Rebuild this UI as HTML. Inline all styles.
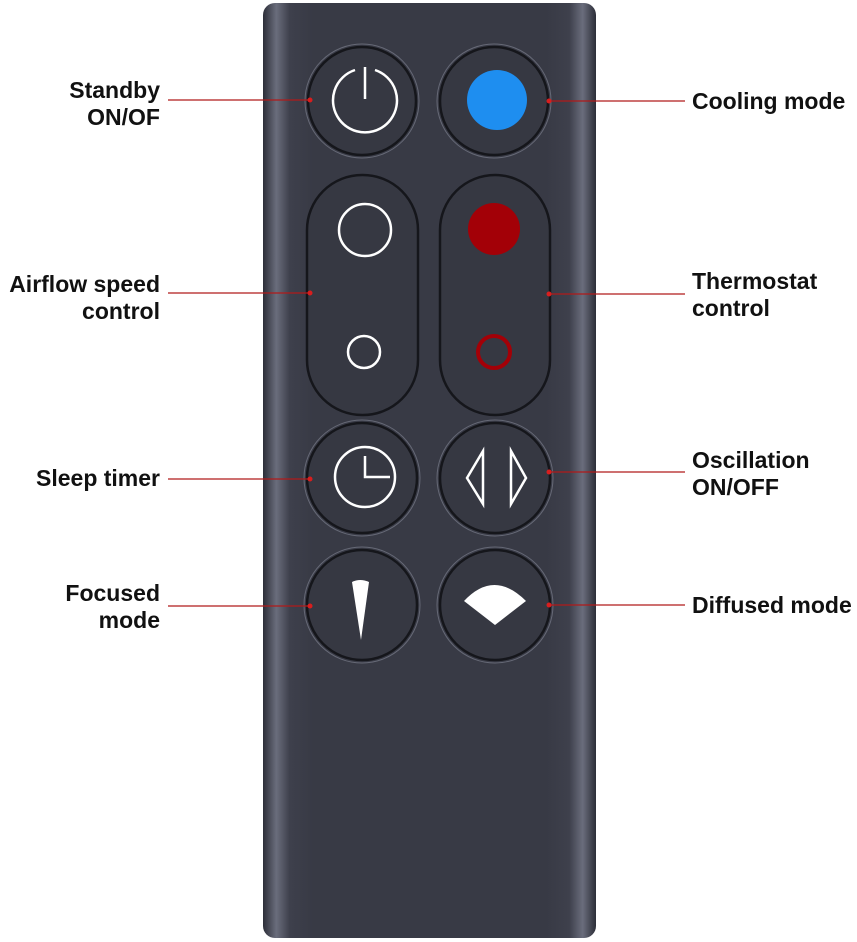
<!DOCTYPE html>
<html><head><meta charset="utf-8"><style>
html,body{margin:0;padding:0;background:#fff;width:857px;height:942px;overflow:hidden}
svg{display:block}
text{font-family:"Liberation Sans",sans-serif;font-weight:bold;font-size:23px;fill:#111}
</style></head><body>
<svg width="857" height="942" viewBox="0 0 857 942">
<defs>
<linearGradient id="bd" x1="0" x2="1" y1="0" y2="0">
<stop offset="0" stop-color="#2c2e38"/>
<stop offset="0.04" stop-color="#6a6d7c"/>
<stop offset="0.08" stop-color="#3e404c"/>
<stop offset="0.15" stop-color="#383a45"/>
<stop offset="0.85" stop-color="#383a45"/>
<stop offset="0.92" stop-color="#3e404c"/>
<stop offset="0.96" stop-color="#6a6d7c"/>
<stop offset="1" stop-color="#2c2e38"/>
</linearGradient>
</defs>
<rect x="263" y="3" width="333" height="935" rx="12" fill="url(#bd)"/>
<g fill="#363842" stroke="#15161b" stroke-width="2.5">
<circle cx="362" cy="101" r="54"/>
<circle cx="494" cy="101" r="54"/>
<rect x="307" y="175" width="111" height="240" rx="55"/>
<rect x="440" y="175" width="110" height="240" rx="55"/>
<circle cx="362" cy="478" r="55"/>
<circle cx="495" cy="478" r="55"/>
<circle cx="362" cy="605" r="55"/>
<circle cx="495" cy="605" r="55"/>
</g>
<g fill="none" stroke="#7a7d8c" stroke-width="1" opacity="0.7">
<circle cx="362" cy="101" r="57"/>
<circle cx="494" cy="101" r="57"/>
<circle cx="362" cy="478" r="58"/>
<circle cx="495" cy="478" r="58"/>
<circle cx="362" cy="605" r="58"/>
<circle cx="495" cy="605" r="58"/>
</g>
<!-- power -->
<path d="M355 70 A32 32 0 1 0 375 70" fill="none" stroke="#fff" stroke-width="2.5"/>
<line x1="365" y1="67" x2="365" y2="99" stroke="#fff" stroke-width="2.5"/>
<circle cx="497" cy="100" r="30" fill="#1e8ef0"/>
<circle cx="365" cy="230" r="26" fill="none" stroke="#fff" stroke-width="2.5"/>
<circle cx="364" cy="352" r="16" fill="none" stroke="#fff" stroke-width="2.5"/>
<circle cx="494" cy="229" r="26" fill="#a30007"/>
<circle cx="494" cy="352" r="16" fill="none" stroke="#a30007" stroke-width="4"/>
<!-- clock -->
<circle cx="365" cy="477" r="30" fill="none" stroke="#fff" stroke-width="2.5"/>
<polyline points="365,456 365,477 390,477" fill="none" stroke="#fff" stroke-width="2.5"/>
<!-- oscillation -->
<polygon points="483,451 483,504 467,478" fill="none" stroke="#fff" stroke-width="2.5"/>
<polygon points="511,451 511,504 526,478" fill="none" stroke="#fff" stroke-width="2.5"/>
<!-- focused -->
<path d="M352 582 Q360 578 369 582 L361 640 Z" fill="#fff"/>
<!-- diffused -->
<path d="M464 601 Q494 569 526 601 L495 625 Z" fill="#fff"/>
<!-- leaders -->
<g stroke="#b11a1a" stroke-width="1.3">
<line x1="168" y1="100" x2="310" y2="100"/>
<line x1="168" y1="293" x2="310" y2="293"/>
<line x1="168" y1="479" x2="310" y2="479"/>
<line x1="168" y1="606" x2="310" y2="606"/>
<line x1="548" y1="101" x2="685" y2="101"/>
<line x1="548" y1="294" x2="685" y2="294"/>
<line x1="548" y1="472" x2="685" y2="472"/>
<line x1="548" y1="605" x2="685" y2="605"/>
</g>
<g fill="#d81e1e">
<circle cx="310" cy="100" r="2.5"/><circle cx="310" cy="293" r="2.5"/>
<circle cx="310" cy="479" r="2.5"/><circle cx="310" cy="606" r="2.5"/>
<circle cx="549" cy="101" r="2.5"/><circle cx="549" cy="294" r="2.5"/>
<circle cx="549" cy="472" r="2.5"/><circle cx="549" cy="605" r="2.5"/>
</g>
<g text-anchor="end">
<text x="160" y="98">Standby</text>
<text x="160" y="125">ON/OF</text>
<text x="160" y="292">Airflow speed</text>
<text x="160" y="319">control</text>
<text x="160" y="486">Sleep timer</text>
<text x="160" y="601">Focused</text>
<text x="160" y="628">mode</text>
</g>
<g>
<text x="692" y="109">Cooling mode</text>
<text x="692" y="289">Thermostat</text>
<text x="692" y="316">control</text>
<text x="692" y="468">Oscillation</text>
<text x="692" y="495">ON/OFF</text>
<text x="692" y="613">Diffused mode</text>
</g>
</svg>
</body></html>
